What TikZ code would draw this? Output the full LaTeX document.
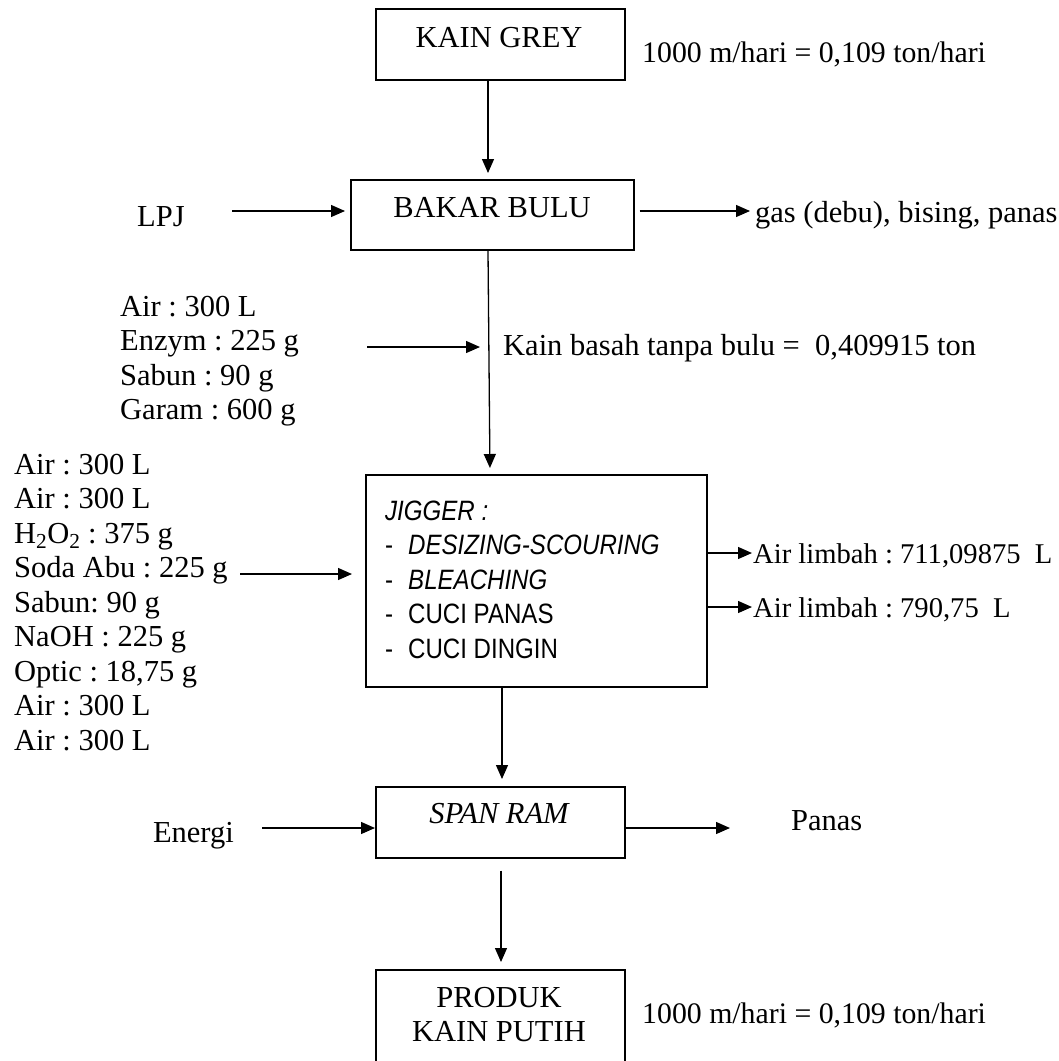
\documentclass[tikz,border=0pt]{standalone}
\usepackage{fontspec}
\setmainfont{Liberation Serif}
\newfontfamily\narrowsans[FakeStretch=0.86]{Liberation Sans}
\usetikzlibrary{arrows.meta,calc}
\frenchspacing
\tikzset{
  box/.style={draw, line width=1.5pt, inner sep=0pt, anchor=north west},
  arr/.style={line width=1.3pt, -{Triangle[length=14pt,width=12pt]}},
  txt/.style={font=\fontsize{30.5}{34.5}\selectfont, inner sep=0pt},
  stxt/.style={font=\fontsize{28.6}{34.5}\selectfont, inner sep=0pt},
  qtxt/.style={font=\fontsize{29.8}{34.5}\selectfont, inner sep=0pt},
}
\begin{document}
\begin{tikzpicture}[x=1pt,y=-1pt]
\useasboundingbox (0,0) rectangle (1059,1061);

% boxes
\node[box, minimum width=249pt, minimum height=71pt] (kg) at (375,8) {};
\node[box, minimum width=283pt, minimum height=70pt] (bb) at (350,179) {};
\node[box, minimum width=341pt, minimum height=212pt] (jig) at (365,474) {};
\node[box, minimum width=249pt, minimum height=71pt] (span) at (375,786) {};
\node[box, minimum width=249pt, minimum height=110pt] (prod) at (375,969) {};

% box texts
\node[txt, anchor=base] (kgt) at (499,47) {KAIN GREY};
\node[txt, anchor=base] (bbt) at (492,217) {BAKAR BULU};
\node[txt, anchor=base west] (jigt) at (385,520) {\narrowsans\fontsize{28}{34.5}\selectfont\vtop{%
  \hbox{\itshape JIGGER :}%
  \hbox{\makebox[23pt][l]{-}\itshape DESIZING-SCOURING}%
  \hbox{\makebox[23pt][l]{-}\itshape BLEACHING}%
  \hbox{\makebox[23pt][l]{-}CUCI PANAS}%
  \hbox{\makebox[23pt][l]{-}CUCI DINGIN}}};
\node[txt, anchor=base] (spant) at (499,823) {\itshape SPAN RAM};
\node[txt, anchor=base] (prodt) at (499,1007) {\vtop{\halign{\hfil#\hfil\cr PRODUK\cr KAIN PUTIH\cr}}};

% side texts
\node[qtxt, anchor=base west] (kgq) at (642,62) {1000 m/hari = 0,109 ton/hari};
\node[txt, anchor=base west] (lpj) at (137,226) {LPJ};
\node[txt, anchor=base west] (gas) at (755,222) {gas (debu), bising, panas};
\node[txt, anchor=base west] (g1) at (120,316) {\vtop{%
  \hbox{Air : 300 L}\hbox{Enzym : 225 g}\hbox{Sabun : 90 g}\hbox{Garam : 600 g}}};
\node[txt, anchor=base west] (kb) at (503,355) {Kain basah tanpa bulu =\ \ 0,409915 ton};
\node[txt, anchor=base west] (g2) at (14,474) {\vtop{%
  \hbox{Air : 300 L}\hbox{Air : 300 L}\hbox{H\textsubscript{2}O\textsubscript{2} : 375 g}%
  \hbox{Soda Abu : 225 g}\hbox{Sabun: 90 g}\hbox{NaOH : 225 g}\hbox{Optic : 18,75 g}%
  \hbox{Air : 300 L}\hbox{Air : 300 L}}};
\node[stxt, anchor=base west] (al1) at (753,563) {Air limbah : 711,09875\ \ L};
\node[stxt, anchor=base west] (al2) at (753,617) {Air limbah : 790,75\ \ L};
\node[txt, anchor=base east] (en) at (234,842) {Energi};
\node[txt, anchor=base west] (pn) at (791,830) {Panas};
\node[qtxt, anchor=base west] (prq) at (642,1023) {1000 m/hari = 0,109 ton/hari};

% helper coordinates
\coordinate (x488) at (488,0);
\coordinate (x490) at (490,0);
\coordinate (x502) at (502,0);
\coordinate (x501) at (501,0);
\coordinate (lpjs) at (232,211);
\coordinate (gase) at (750,211);
\coordinate (g1s) at (367,347);
\coordinate (g1e) at (480,347);
\coordinate (g2s) at (240,574);
\coordinate (a1e) at (752,553);
\coordinate (a2e) at (752,607);
\coordinate (ens) at (262,828);
\coordinate (pne) at (730,828);

% connectors
\draw[arr, shorten >=6pt] (kg.south -| x488) -- (bb.north -| x488);
\draw[arr, shorten >=5pt] (lpjs) -- (bb.west |- lpjs);
\draw[arr, shorten <=5pt] (bb.east |- gase) -- (gase);
\draw[arr, shorten >=6pt] (bb.south -| x488) -- (jig.north -| x490);
\draw[arr] (g1s) -- (g1e);
\draw[arr, shorten >=13pt] (g2s) -- (jig.west |- g2s);
\draw[arr] (jig.east |- a1e) -- (a1e);
\draw[arr] (jig.east |- a2e) -- (a2e);
\draw[arr, shorten >=7pt] (jig.south -| x502) -- (span.north -| x502);
\draw[arr] (ens) -- (span.west |- ens);
\draw[arr] (span.east |- pne) -- (pne);
\draw[arr, shorten <=12pt, shorten >=7pt] (span.south -| x501) -- (prod.north -| x501);
\end{tikzpicture}
\end{document}
